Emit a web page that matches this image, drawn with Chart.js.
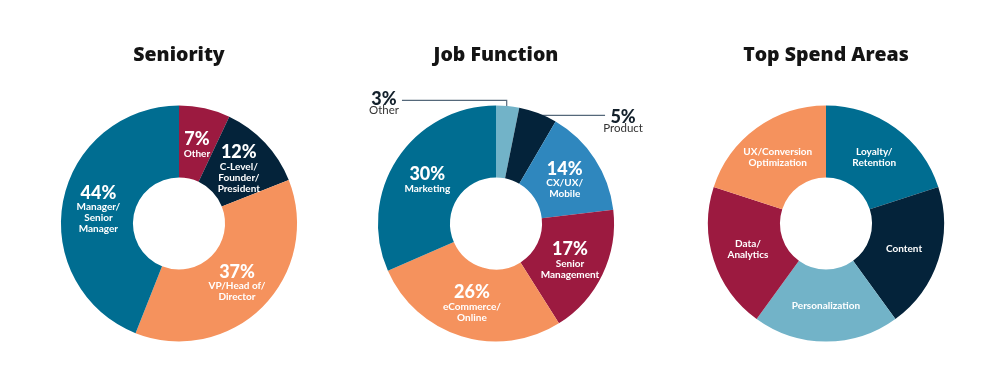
<!DOCTYPE html>
<html lang="en">
<head>
  <meta charset="UTF-8" />
  <title>Survey Breakdown</title>
  <script src="https://cdn.jsdelivr.net/npm/chart.js"></script>
  <style>
    body { margin: 0; background: #fff; }
    #wrap { position: relative; width: 1000px; height: 380px; }
    .chart { position: absolute; top: 0; width: 300px; height: 380px; }
  </style>
</head>
<body>
  <div id="wrap">
    <div class="chart" style="left:29px"><canvas id="seniority"></canvas></div>
    <div class="chart" style="left:346px"><canvas id="jobFunction"></canvas></div>
    <div class="chart" style="left:676px"><canvas id="spendAreas"></canvas></div>
  </div>

  <script>
    const seniorityNames = [['Other'], ['C-Level/', 'Founder/', 'President'], ['VP/Head of/', 'Director'], ['Manager/', 'Senior', 'Manager']];
    const seniorityValues = [7, 12, 37, 44];
    const seniorityColors = ['#9c1a40', '#04233a', '#f5925d', '#006d91'];

    const jobNames = [['Other'], ['Product'], ['CX/UX/', 'Mobile'], ['Senior', 'Management'], ['eCommerce/', 'Online'], ['Marketing']];
    const jobValues = [3, 5, 14, 17, 26, 30];
    const jobColors = ['#72b3c8', '#04233a', '#2f87be', '#9c1a40', '#f5925d', '#006d91'];

    const spendNames = [['Loyalty/', 'Retention'], ['Content'], ['Personalization'], ['Data/', 'Analytics'], ['UX/Conversion', 'Optimization']];
    const spendValues = [20, 20, 20, 20, 20];
    const spendColors = ['#006d91', '#04233a', '#72b3c8', '#9c1a40', '#f5925d'];

    const LABEL_FONT = 'Lato, "DejaVu Sans", sans-serif';

    // white labels inside the slices, optional callouts outside for thin slices
    const sliceLabels = {
      id: 'sliceLabels',
      beforeDatasetsDraw(chart, args, opts) {
        const outside = opts.outside || [];
        if (!outside.length) return;
        const meta = chart.getDatasetMeta(0);
        const ctx = chart.ctx;
        ctx.save();
        ctx.strokeStyle = '#55687a';
        ctx.lineWidth = 1.2;
        outside.forEach(o => {
          const arc = meta.data[o.index];
          const { x, y, outerRadius, startAngle, endAngle } = arc.getProps(['x', 'y', 'outerRadius', 'startAngle', 'endAngle']);
          const mid = (startAngle + endAngle) / 2;
          const ax = x + Math.cos(mid) * (outerRadius - 10);
          const ay = y + Math.sin(mid) * (outerRadius - 10);
          ctx.beginPath();
          if (o.side < 0) {
            const ly = y - outerRadius - 5;
            ctx.moveTo(ax, ay);
            ctx.lineTo(ax, ly);
            ctx.lineTo(x - outerRadius + 24, ly);
          } else {
            const ly = y - outerRadius + 10;
            ctx.moveTo(ax - 10, ly);
            ctx.lineTo(x + outerRadius - 9, ly);
          }
          ctx.stroke();
        });
        ctx.restore();
      },
      afterDatasetsDraw(chart, args, opts) {
        const meta = chart.getDatasetMeta(0);
        const ds = chart.data.datasets[0];
        const names = opts.names;
        const outside = opts.outside || [];
        const ctx = chart.ctx;
        ctx.save();
        ctx.textAlign = 'center';
        ctx.textBaseline = 'middle';
        meta.data.forEach((arc, i) => {
          const pct = opts.showPct ? ds.data[i] + '%' : null;
          const out = outside.find(o => o.index === i);
          const { x, y, outerRadius } = arc.getProps(['x', 'y', 'outerRadius']);
          if (out) {
            let lx, ly;
            if (out.side < 0) { lx = x - outerRadius + 6; ly = y - outerRadius - 6.5; }
            else { lx = x + outerRadius + 9; ly = y - outerRadius + 12; }
            ctx.fillStyle = '#13202b';
            ctx.font = '900 18px ' + LABEL_FONT;
            ctx.fillText(pct, lx, ly);
            ctx.fillStyle = '#333';
            ctx.font = '400 11.5px ' + LABEL_FONT;
            ctx.fillText(names[i].join(' '), lx, ly + 11);
            return;
          }
          const c = arc.tooltipPosition();
          const lines = names[i];
          const h = (pct ? 14 : 0) + (lines.length - 1) * 11;
          let cy = c.y - h / 2 + (pct ? 3 : 0);
          ctx.fillStyle = '#fff';
          if (pct) {
            ctx.font = '900 18px ' + LABEL_FONT;
            ctx.fillText(pct, c.x, cy);
            cy += 14;
          }
          ctx.font = '700 10px ' + LABEL_FONT;
          lines.forEach(l => { ctx.fillText(l, c.x, cy); cy += 11; });
        });
        ctx.restore();
      }
    };

    function makeDonut(id, title, names, values, colors, showPct, outside) {
      return new Chart(document.getElementById(id), {
        type: 'doughnut',
        data: {
          labels: names.map(n => n.join(' ')),
          datasets: [{ data: values, backgroundColor: colors, borderWidth: 0 }]
        },
        options: {
          responsive: true,
          maintainAspectRatio: false,
          animation: false,
          cutout: '39%',
          layout: { padding: { bottom: 38.5 } },
          plugins: {
            legend: { display: false },
            tooltip: { enabled: false },
            title: {
              display: true,
              text: title,
              color: '#141414',
              font: { family: '"Open Sans", sans-serif', size: 19.5, weight: 800 },
              padding: { top: 44, bottom: 38 }
            },
            sliceLabels: { names: names, showPct: showPct, outside: outside }
          }
        },
        plugins: [sliceLabels]
      });
    }

    makeDonut('seniority', 'Seniority', seniorityNames, seniorityValues, seniorityColors, true, []);
    makeDonut('jobFunction', 'Job Function', jobNames, jobValues, jobColors, true, [{ index: 0, side: -1 }, { index: 1, side: 1 }]);
    makeDonut('spendAreas', 'Top Spend Areas', spendNames, spendValues, spendColors, false, []);
  </script>
</body>
</html>
